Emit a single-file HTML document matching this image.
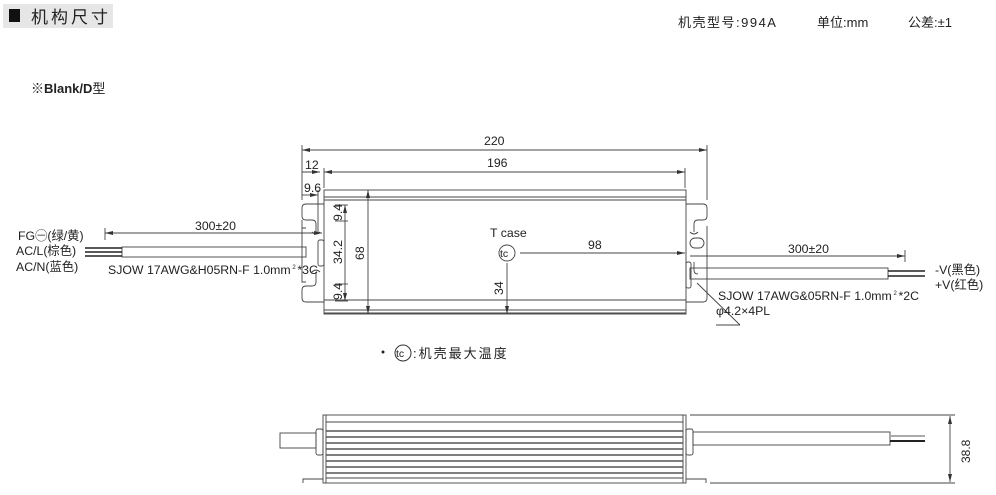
<!DOCTYPE html>
<html><head><meta charset="utf-8"><style>
body{margin:0;background:#fff;}
svg{display:block;font-family:"Liberation Sans","Noto Sans CJK SC",sans-serif;}
text{fill:#222;}
</style></head><body>
<svg width="996" height="495" viewBox="0 0 996 495" xmlns="http://www.w3.org/2000/svg">
<defs>
<marker id="a" markerWidth="8" markerHeight="6" refX="8" refY="3" orient="auto-start-reverse" markerUnits="userSpaceOnUse"><path d="M0,1 L8,3 L0,5 z" fill="#333"/></marker>
</defs>
<rect x="3" y="4" width="110" height="24" fill="#e6e6e6"/>
<rect x="9" y="9" width="11" height="13" fill="#111"/>
<text x="31" y="23" font-size="17" letter-spacing="3">机构尺寸</text>
<text x="678" y="27" font-size="13" letter-spacing="1.5">机壳型号:994A</text>
<text x="817" y="27" font-size="13">单位:mm</text>
<text x="908" y="27" font-size="13">公差:±1</text>
<text x="31" y="93" font-size="13" font-weight="bold">※Blank/D<tspan font-weight="normal">型</tspan></text>

<g stroke="#444" fill="none" stroke-width="0.9">
<rect x="324" y="190" width="362" height="124"/>
<line x1="324" y1="197" x2="686" y2="197"/>
<line x1="324" y1="200" x2="686" y2="200"/>
<line x1="324" y1="300" x2="686" y2="300"/>
<line x1="324" y1="310" x2="686" y2="310"/>
<line x1="324" y1="313" x2="686" y2="313"/>
<path d="M324,204 H306 Q302,204 302,208 V216 Q302,220 306,220 H312 Q316,220 316,224 V232 M306,228 H302 V282 H306 M306,286 H312 Q316,286 316,282 V272 M306,286 Q302,286 302,290 V298 Q302,302 306,302 H324 M302,220 V228"/>
<path d="M312,232 Q316,236 320,232 M312,272 Q316,268 320,272"/>
<path d="M686,204 H703 Q707,204 707,208 V216 Q707,220 703,220 H698 Q694,220 694,224 V232 M707,226 V298 Q707,302 703,302 H686"/>
<path d="M690,232 Q694,236 698,232"/>
<rect x="690" y="238" width="14" height="10" rx="5"/>
<path d="M694,262 V270 Q694,274 698,274"/>
<rect x="122" y="247" width="184" height="10"/>
<rect x="318" y="240" width="6" height="26" rx="2"/>
<rect x="690" y="268" width="198" height="11"/>
<rect x="686" y="262" width="5" height="26" rx="2"/>
<line x1="302" y1="150" x2="707" y2="150" marker-start="url(#a)" marker-end="url(#a)"/>
<line x1="302" y1="145" x2="302" y2="200"/>
<line x1="707" y1="145" x2="707" y2="200"/>
<line x1="324" y1="172" x2="685" y2="172" marker-start="url(#a)" marker-end="url(#a)"/>
<line x1="302" y1="172" x2="320" y2="172" marker-end="url(#a)"/>
<line x1="324" y1="168" x2="324" y2="188"/>
<line x1="685" y1="168" x2="685" y2="188"/>
<line x1="302" y1="195" x2="318" y2="195" marker-end="url(#a)"/>
<line x1="318" y1="190" x2="318" y2="232"/>
<line x1="368" y1="190" x2="368" y2="314" marker-start="url(#a)" marker-end="url(#a)"/>
<line x1="345" y1="205" x2="345" y2="301" marker-start="url(#a)" marker-end="url(#a)"/>
<line x1="335" y1="205" x2="348" y2="205"/>
<line x1="335" y1="221" x2="348" y2="221"/>
<line x1="335" y1="284" x2="348" y2="284"/>
<line x1="335" y1="301" x2="348" y2="301"/>
<line x1="507" y1="263" x2="507" y2="314" marker-end="url(#a)"/>
<line x1="520" y1="253" x2="685" y2="253" marker-end="url(#a)"/>
<line x1="105" y1="233" x2="322" y2="233" marker-start="url(#a)" marker-end="url(#a)"/>
<line x1="105" y1="228" x2="105" y2="240"/>
<line x1="690" y1="256" x2="905" y2="256" marker-end="url(#a)"/>
<line x1="905" y1="250" x2="905" y2="262"/>
<line x1="740" y1="325" x2="697" y2="283" />
<line x1="716" y1="325" x2="740" y2="325"/>
<circle cx="507" cy="253" r="8"/>
</g>
<g stroke-width="1.6">
<line x1="85" y1="248" x2="122" y2="248" stroke="#222"/>
<line x1="85" y1="252" x2="122" y2="252" stroke="#222"/>
<line x1="85" y1="256" x2="122" y2="256" stroke="#222"/>
<line x1="888" y1="271" x2="925" y2="271" stroke="#222"/>
<line x1="888" y1="276" x2="925" y2="276" stroke="#222"/>
</g>
<g font-size="12.3">
<text x="195" y="230">300±20</text>
<text x="788" y="253">300±20</text>
<text x="490" y="237">T case</text>
<text x="500" y="257" font-size="10.5">tc</text>
<text x="588" y="249">98</text>
<text x="484" y="145">220</text>
<text x="487" y="167">196</text>
<text x="305" y="169">12</text>
<text x="304" y="192">9.6</text>
<text x="18" y="240">FG㊀(绿/黄)</text>
<text x="16" y="255">AC/L(棕色)</text>
<text x="16" y="271">AC/N(蓝色)</text>
<text x="108" y="274">SJOW 17AWG&amp;H05RN-F 1.0mm<tspan font-size="6" dy="-5"> 2 </tspan><tspan dy="5">*3C</tspan></text>
<text x="718" y="300">SJOW 17AWG&amp;05RN-F 1.0mm<tspan font-size="6" dy="-5"> 2 </tspan><tspan dy="5">*2C</tspan></text>
<text x="716" y="315">φ4.2×4PL</text>
<text x="935" y="274">-V(黑色)</text>
<text x="935" y="289">+V(红色)</text>
<text transform="translate(342,221) rotate(-90)">9.4</text>
<text transform="translate(342,264) rotate(-90)">34.2</text>
<text transform="translate(342,300) rotate(-90)">9.4</text>
<text transform="translate(364,260) rotate(-90)">68</text>
<text transform="translate(503,295) rotate(-90)">34</text>
</g>
<circle cx="383" cy="352" r="1.5" fill="#222"/>
<circle cx="403" cy="353" r="8" stroke="#333" fill="none"/>
<text x="396" y="357" font-size="10.5">tc</text>
<text x="413" y="358" font-size="13" letter-spacing="2">:机壳最大温度</text>

<g stroke="#444" fill="none" stroke-width="0.9">
<rect x="323" y="415" width="363" height="68"/>
<line x1="326" y1="415" x2="326" y2="483"/>
<line x1="683" y1="415" x2="683" y2="483"/>
<line x1="326" y1="422" x2="683" y2="422"/>
<line x1="326" y1="478" x2="683" y2="478"/>
<path d="M303,483 V479 H323 M686,479 H706 V483"/>
<rect x="316" y="429" width="7" height="26" rx="2"/>
<rect x="686" y="429" width="7" height="26" rx="2"/>
<rect x="280" y="433" width="36" height="15"/>
<rect x="693" y="432" width="197" height="13"/>
<line x1="690" y1="415" x2="955" y2="415"/>
<line x1="710" y1="483" x2="955" y2="483"/>
<line x1="950" y1="416" x2="950" y2="482" marker-start="url(#a)" marker-end="url(#a)"/>
</g>
<g stroke="#555" stroke-width="1.4">
<line x1="326" y1="431" x2="683" y2="431"/>
<line x1="326" y1="437" x2="683" y2="437"/>
<line x1="326" y1="443" x2="683" y2="443"/>
<line x1="326" y1="449" x2="683" y2="449"/>
<line x1="326" y1="455" x2="683" y2="455"/>
<line x1="326" y1="461" x2="683" y2="461"/>
<line x1="326" y1="467" x2="683" y2="467"/>
<line x1="326" y1="473" x2="683" y2="473"/>
</g>
<line x1="890" y1="436" x2="925" y2="436" stroke="#aaa" stroke-width="2"/>
<line x1="890" y1="441" x2="925" y2="441" stroke="#222" stroke-width="2"/>
<text transform="translate(970,463) rotate(-90)" font-size="12">38.8</text>
</svg>
</body></html>
